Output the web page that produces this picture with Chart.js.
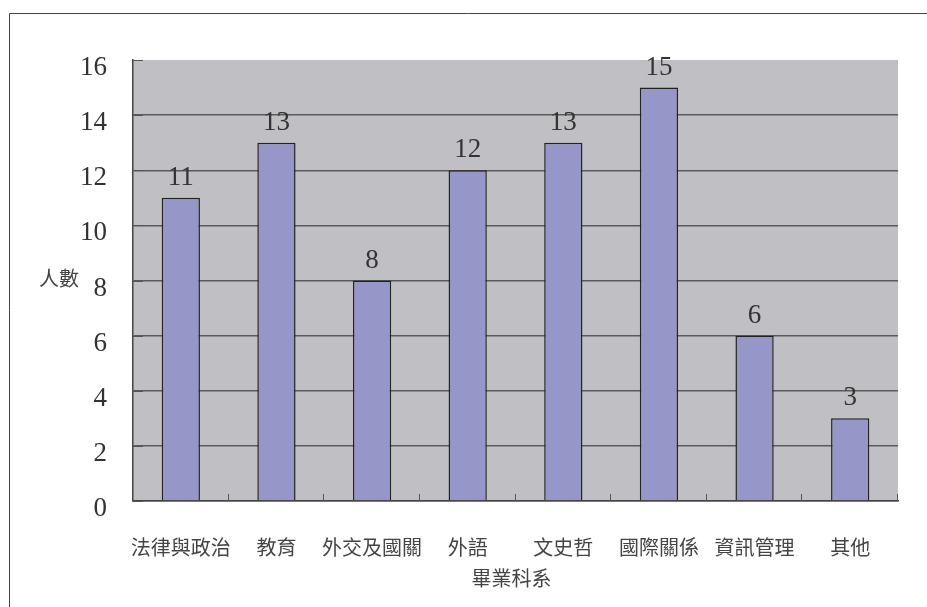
<!DOCTYPE html>
<html>
<head>
<meta charset="utf-8">
<script src="https://cdn.jsdelivr.net/npm/chart.js@4"></script>
<style>
  body { margin: 0; background: #fff; }
  #wrap { width: 927px; height: 607px; }
</style>
</head>
<body>
<div id="wrap"><canvas id="grafico" width="927" height="607"></canvas></div>
<script>
// data
const categories = ['法律與政治', '教育', '外交及國關', '外語', '文史哲', '國際關係', '資訊管理', '其他'];
const counts = [11, 13, 8, 12, 13, 15, 6, 3];
const yMin = 0, yMax = 16, yStep = 2;
const xTitle = '畢業科系';
const yTitle = '人數';

const serif = '"Liberation Serif", "DejaVu Serif", serif';
const cjk = '"Noto Sans CJK TC", "Noto Sans CJK SC", sans-serif';

// gray plot area, outer frame, value labels, titles, category ticks
const extras = {
  id: 'extras',
  beforeDraw(chart) {
    const { ctx, chartArea: a } = chart;
    ctx.save();
    ctx.fillStyle = '#c0c0c4';
    ctx.fillRect(a.left, a.top, a.right - a.left, a.bottom - a.top);
    ctx.restore();
  },
  afterDraw(chart) {
    const { ctx, chartArea: a } = chart;
    ctx.save();
    // frame around the page
    ctx.strokeStyle = '#444';
    ctx.lineWidth = 1;
    ctx.beginPath();
    ctx.moveTo(9.5, 607);
    ctx.lineTo(9.5, 13.5);
    ctx.lineTo(927, 13.5);
    ctx.stroke();

    // small ticks between categories
    const w = (a.right - a.left) / categories.length;
    ctx.strokeStyle = '#555';
    ctx.beginPath();
    for (let i = 1; i <= categories.length; i++) {
      const x = Math.round(a.left + i * w) - 0.5;
      ctx.moveTo(x, a.bottom);
      ctx.lineTo(x, a.bottom - 7);
    }
    // short ticks on the y axis
    const y = chart.scales.y;
    for (let v = yMin; v <= yMax; v += yStep) {
      const py = Math.round(y.getPixelForValue(v)) + 0.5;
      ctx.moveTo(a.left, py);
      ctx.lineTo(a.left + 10, py);
    }
    ctx.stroke();

    // value labels
    ctx.fillStyle = '#333';
    ctx.font = '27px ' + serif;
    ctx.textAlign = 'center';
    ctx.textBaseline = 'middle';
    chart.getDatasetMeta(0).data.forEach((bar, i) => {
      ctx.fillText(String(counts[i]), bar.x, bar.y - 20);
    });

    // axis titles
    ctx.font = '20px ' + cjk;
    ctx.fillStyle = '#444';
    ctx.fillText(xTitle, (a.left + a.right) / 2 - 4, 578);
    ctx.fillText(yTitle, 59, 278);
    ctx.restore();
  }
};

new Chart(document.getElementById('grafico').getContext('2d'), {
  type: 'bar',
  data: {
    labels: categories,
    datasets: [{
      data: counts,
      backgroundColor: '#9696c8',
      borderColor: '#222',
      borderWidth: 1.5,
      barPercentage: 0.4,
      categoryPercentage: 1
    }]
  },
  options: {
    responsive: false,
    animation: false,
    layout: { padding: { top: 60, right: 29, left: 0, bottom: 0 } },
    plugins: {
      legend: { display: false },
      tooltip: { enabled: false }
    },
    scales: {
      x: {
        grid: { display: false },
        border: { display: true, color: '#444', width: 1.5 },
        ticks: {
          color: '#444',
          font: { family: cjk, size: 20 },
          padding: 26,
          maxRotation: 0,
          autoSkip: false
        },
        afterFit(scale) { scale.height = 106; }
      },
      y: {
        min: yMin,
        max: yMax,
        grid: {
          drawTicks: false,
          color: ctx => ctx.tick && ctx.tick.value === yMax ? 'rgba(0,0,0,0)' : '#5a5a5a',
          lineWidth: 1.5
        },
        border: { display: true, color: '#444', width: 1.5 },
        ticks: {
          stepSize: yStep,
          color: '#333',
          font: { family: serif, size: 27 },
          padding: 26,
          labelOffset: 8
        },
        afterFit(scale) { scale.width = 133; }
      }
    }
  },
  plugins: [extras]
});
</script>
</body>
</html>
